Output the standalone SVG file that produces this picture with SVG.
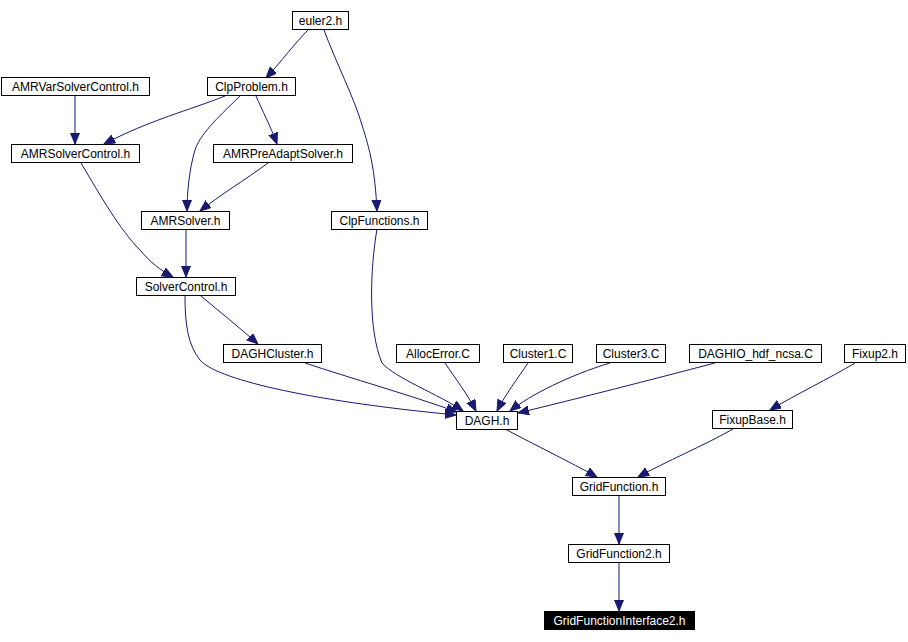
<svg xmlns="http://www.w3.org/2000/svg" width="908" height="642" viewBox="0 0 908 642">
<style>
.n rect{fill:#fff;stroke:#000;stroke-width:1}
.n text{font-family:"Liberation Sans",Arial,sans-serif;font-size:12px;text-anchor:middle;fill:#000}
.n.hl rect{fill:#000}
.n.hl text{fill:#fff}
.e path{fill:none;stroke:#191970;stroke-width:1;marker-end:url(#ah)}
</style>
<defs>
<marker id="ah" markerUnits="userSpaceOnUse" markerWidth="13" markerHeight="11" refX="11" refY="4.5" orient="auto">
<polygon points="0,0 11,4.5 0,9" fill="#191970" stroke="#191970" stroke-width="1"/>
</marker>
</defs>
<rect width="908" height="642" fill="#fff"/>
<g id="edges" class="e">
<path d="M308,30 C295,43 280,63 266,78"/>
<path d="M324,30 C335,60 355,100 362,125 C370,150 375,170 377,211"/>
<path d="M75,96 L75,144"/>
<path d="M225,96 C190,110 150,120 104,144"/>
<path d="M240,96 C215,120 200,135 195,150 C189,170 187,195 187,211"/>
<path d="M256,96 C262,110 270,125 277,144"/>
<path d="M268,163 C245,180 220,195 200,211"/>
<path d="M81,163 C100,195 120,230 140,250 C150,262 160,270 173,277"/>
<path d="M186,229 L186,277"/>
<path d="M201,296 C220,312 240,328 258,344"/>
<path d="M185,296 C185,325 188,345 200,360 C215,378 300,400 456,415"/>
<path d="M305,363 C350,378 410,395 457,412"/>
<path d="M377,229 C370,270 368,330 382,363 C395,378 440,395 463,411"/>
<path d="M445,363 C455,378 468,395 476,411"/>
<path d="M528,363 C518,378 505,395 497,411"/>
<path d="M610,363 C570,375 530,395 510,411"/>
<path d="M715,363 C650,380 580,398 518,413"/>
<path d="M855,363 C830,378 795,395 770,410"/>
<path d="M505,429 C535,445 570,462 597,477"/>
<path d="M733,429 C705,445 665,462 638,477"/>
<path d="M619,496 L619,544"/>
<path d="M619,563 L619,611"/>
</g>
<g id="euler2" class="n"><rect x="292.5" y="11.5" width="56" height="18"/><text x="320.5" y="24.5">euler2.h</text></g>
<g id="AMRVarSolverControl" class="n"><rect x="1.5" y="77.5" width="148" height="18"/><text x="75.5" y="90.5">AMRVarSolverControl.h</text></g>
<g id="ClpProblem" class="n"><rect x="207.5" y="77.5" width="88" height="18"/><text x="251.5" y="90.5">ClpProblem.h</text></g>
<g id="AMRSolverControl" class="n"><rect x="11.5" y="144.5" width="128" height="18"/><text x="75.5" y="157.5">AMRSolverControl.h</text></g>
<g id="AMRPreAdaptSolver" class="n"><rect x="213.5" y="144.5" width="139" height="18"/><text x="283" y="157.5">AMRPreAdaptSolver.h</text></g>
<g id="AMRSolver" class="n"><rect x="141.5" y="211.5" width="88" height="18"/><text x="185.5" y="224.5">AMRSolver.h</text></g>
<g id="ClpFunctions" class="n"><rect x="331.5" y="211.5" width="96" height="18"/><text x="379.5" y="224.5">ClpFunctions.h</text></g>
<g id="SolverControl" class="n"><rect x="136.5" y="277.5" width="99" height="18"/><text x="186" y="290.5">SolverControl.h</text></g>
<g id="DAGHCluster" class="n"><rect x="223.5" y="344.5" width="98" height="18"/><text x="272.5" y="357.5">DAGHCluster.h</text></g>
<g id="AllocError" class="n"><rect x="396.5" y="344.5" width="83" height="18"/><text x="438" y="357.5">AllocError.C</text></g>
<g id="Cluster1" class="n"><rect x="503.5" y="344.5" width="69" height="18"/><text x="538" y="357.5">Cluster1.C</text></g>
<g id="Cluster3" class="n"><rect x="596.5" y="344.5" width="69" height="18"/><text x="631" y="357.5">Cluster3.C</text></g>
<g id="DAGHIO_hdf_ncsa" class="n"><rect x="689.5" y="344.5" width="132" height="18"/><text x="755.5" y="357.5">DAGHIO_hdf_ncsa.C</text></g>
<g id="Fixup2" class="n"><rect x="844.5" y="344.5" width="61" height="18"/><text x="875" y="357.5">Fixup2.h</text></g>
<g id="DAGH" class="n"><rect x="456.5" y="411.5" width="61" height="18"/><text x="487" y="424.5">DAGH.h</text></g>
<g id="FixupBase" class="n"><rect x="712.5" y="410.5" width="80" height="18"/><text x="752.5" y="423.5">FixupBase.h</text></g>
<g id="GridFunction" class="n"><rect x="572.5" y="477.5" width="93" height="18"/><text x="619" y="490.5">GridFunction.h</text></g>
<g id="GridFunction2" class="n"><rect x="568.5" y="544.5" width="101" height="18"/><text x="619" y="557.5">GridFunction2.h</text></g>
<g id="GridFunctionInterface2" class="n hl"><rect x="544.5" y="611.5" width="150" height="18"/><text x="619.5" y="624.5">GridFunctionInterface2.h</text></g>
</svg>
